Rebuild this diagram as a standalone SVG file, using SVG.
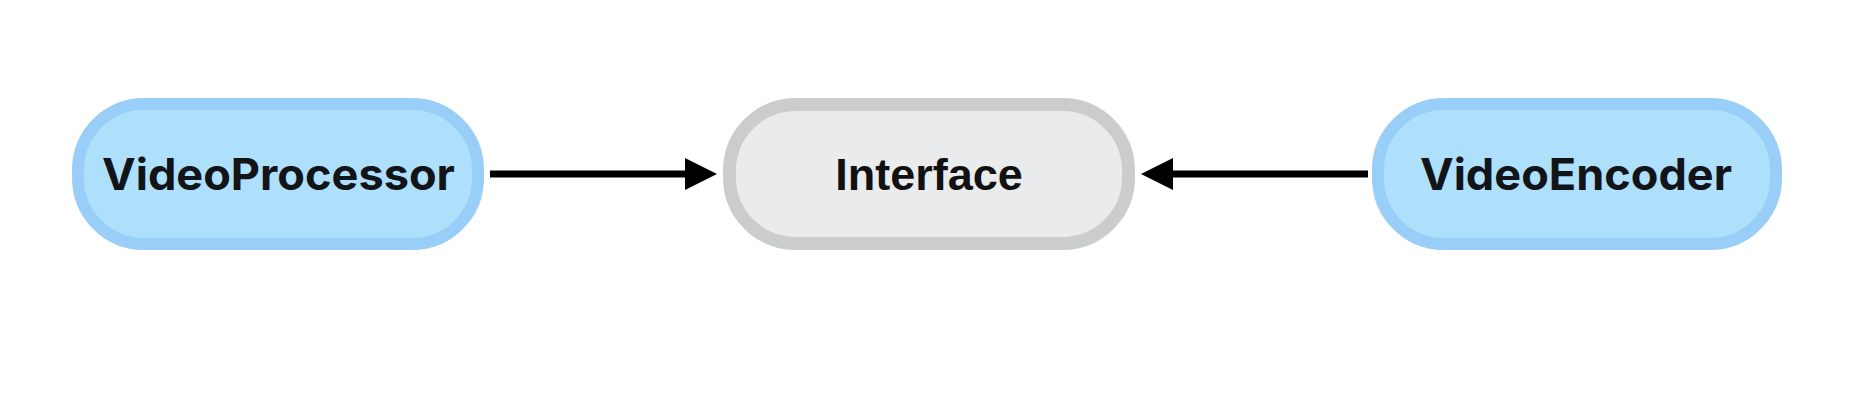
<svg xmlns="http://www.w3.org/2000/svg" width="1854" height="414" viewBox="0 0 1854 414">
  <style>
    .blue { fill: #afe0fb; stroke: #98cef7; stroke-width: 12; }
    .gray { fill: #eaebec; stroke: #cbcccc; stroke-width: 13; }
    .lbl { font-family: Inter, "Liberation Sans", sans-serif; font-weight: 700; font-size: 44px; fill: #111418; text-anchor: middle; }
    .lbl2 { font-family: "Liberation Sans", Arial, sans-serif; font-weight: 700; font-size: 45px; fill: #111111; text-anchor: middle; }
    .edge { stroke: #000; stroke-width: 7; fill: none; }
  </style>
  <defs>
    <marker id="arrow" viewBox="0 0 32 32" refX="4" refY="16" markerWidth="32" markerHeight="32" markerUnits="userSpaceOnUse" orient="auto">
      <path d="M0,0 L32,16 L0,32 Z" fill="#000"/>
    </marker>
  </defs>
  <rect width="1854" height="414" fill="#ffffff"/>
  <g id="connectors">
    <line class="edge" x1="490" y1="174" x2="689" y2="174" marker-end="url(#arrow)"/>
    <line class="edge" x1="1368" y1="174" x2="1169" y2="174" marker-end="url(#arrow)"/>
  </g>
  <g id="node-videoprocessor">
    <rect class="blue" x="78" y="104" width="400" height="140" rx="66" ry="66"/>
    <text class="lbl" x="278.5" y="190" textLength="353" lengthAdjust="spacingAndGlyphs">VideoProcessor</text>
  </g>
  <g id="node-interface">
    <rect class="gray" x="729.5" y="104.5" width="399" height="139" rx="66" ry="66"/>
    <text class="lbl2" x="929" y="190">Interface</text>
  </g>
  <g id="node-videoencoder">
    <rect class="blue" x="1378" y="104" width="398" height="140" rx="66" ry="66"/>
    <text class="lbl" x="1576" y="190" textLength="312" lengthAdjust="spacingAndGlyphs">VideoEncoder</text>
  </g>
</svg>
